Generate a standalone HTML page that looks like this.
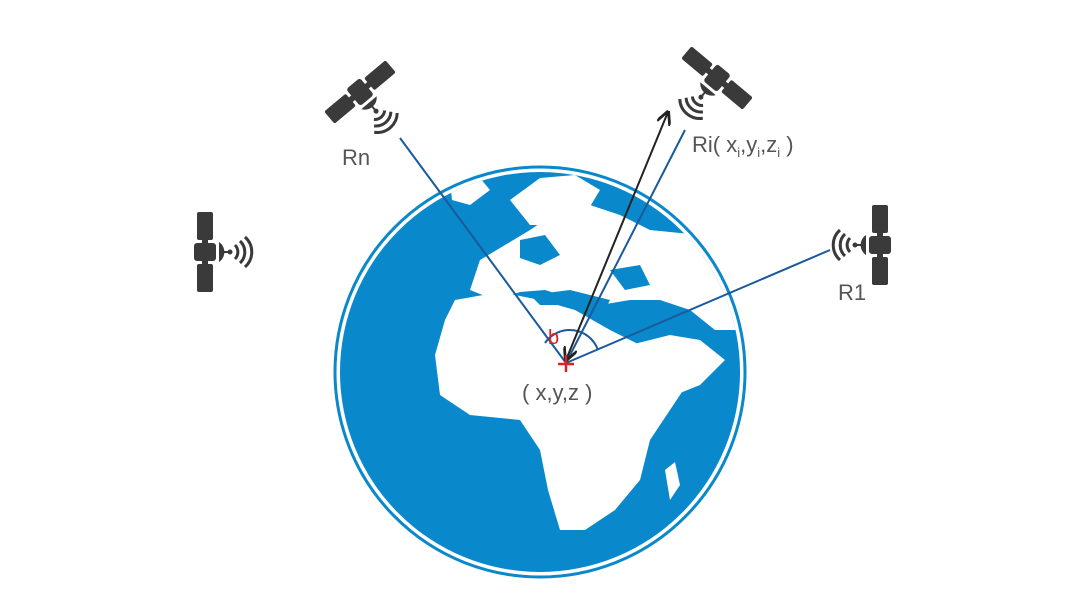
<!DOCTYPE html>
<html><head><meta charset="utf-8"><style>
html,body{margin:0;padding:0;background:#fff;width:1080px;height:608px;overflow:hidden}
svg text{font-family:"Liberation Sans",sans-serif}
</style></head><body>
<svg width="1080" height="608" viewBox="0 0 1080 608" xmlns="http://www.w3.org/2000/svg">
<defs>
<g id="sat">
  <rect x="-40" y="-8" width="28" height="16" rx="2" fill="#3a3a3a"/>
  <rect x="12" y="-8" width="28" height="16" rx="2" fill="#3a3a3a"/>
  <rect x="-14" y="-3" width="28" height="6" fill="#3a3a3a"/>
  <rect x="-9" y="-11" width="18" height="22" rx="3" fill="#3a3a3a"/>
  <path d="M-10 12 A12 12 0 0 0 10 12 Z" fill="#3a3a3a" transform="translate(0,2)"/>
  <line x1="0" y1="14" x2="0" y2="24" stroke="#3a3a3a" stroke-width="2"/>
  <circle cx="0" cy="25" r="2.5" fill="#3a3a3a"/>
  <path d="M-7 30 A10 10 0 0 0 7 30" stroke="#3a3a3a" stroke-width="3" fill="none"/>
  <path d="M-11 35 A15 15 0 0 0 11 35" stroke="#3a3a3a" stroke-width="3" fill="none"/>
  <path d="M-15 40 A20 20 0 0 0 15 40" stroke="#3a3a3a" stroke-width="3" fill="none"/>
</g>
<marker id="ah" viewBox="0 0 10 10" refX="9" refY="5" markerWidth="7" markerHeight="7" orient="auto-start-reverse"><path d="M0 0 L10 5 L0 10" fill="none" stroke="#222" stroke-width="2"/></marker>
<clipPath id="gc"><circle cx="540" cy="372" r="200"/></clipPath>
</defs>
<circle cx="540" cy="372" r="205" fill="#fff" stroke="#0a88cc" stroke-width="3"/>
<circle cx="540" cy="372" r="200" fill="#0a88cc"/>
<g clip-path="url(#gc)" fill="#fff">
  <path d="M455 300 L500 292 L540 300 L575 310 L610 330 L640 345 L660 360 L690 380 L670 410 L650 440 L640 480 L615 510 L585 530 L560 530 L548 490 L540 450 L520 420 L470 415 L440 395 L435 355 L445 320 Z"/>
  <path d="M470 290 L480 260 L505 245 L530 230 L560 210 L590 205 L620 215 L650 230 L700 235 L740 260 L740 330 L715 330 L690 310 L660 300 L630 300 L600 305 L570 298 L545 290 L520 292 L495 300 Z"/>
  <path d="M630 345 L670 335 L700 340 L725 360 L700 385 L675 395 L655 370 Z"/>
  <path d="M510 200 L540 178 L575 175 L600 190 L585 215 L555 225 L530 225 Z"/>
  <path d="M450 180 L475 172 L490 190 L470 205 L452 200 Z"/>
  <path d="M665 470 L675 462 L680 485 L670 500 Z"/>
</g>
<g fill="#0a88cc">
  <path d="M530 295 L570 290 L610 300 L605 310 L570 305 L540 305 Z"/>
  <path d="M520 240 L545 235 L560 255 L540 265 L520 258 Z"/>
  <path d="M610 270 L640 265 L650 285 L625 290 Z"/>
</g>
<g stroke="#1a5a9a" stroke-width="2" fill="none">
  <line x1="400" y1="138" x2="566" y2="363"/>
  <line x1="685" y1="130" x2="566" y2="363"/>
  <line x1="830" y1="250" x2="566" y2="363"/>
  <path d="M545 343 A30 30 0 0 1 598 350"/>
</g>
<line x1="566" y1="360" x2="668" y2="112" stroke="#222" stroke-width="2" marker-start="url(#ah)" marker-end="url(#ah)"/>
<text x="548" y="344" fill="#e02020" font-size="20">b</text>
<path d="M566 355 V372 M558 364 H574" stroke="#e02020" stroke-width="2.5"/>
<text x="522" y="400" fill="#555" font-size="22">( x,y,z )</text>
<use href="#sat" transform="translate(360,92) rotate(-40)"/>
<use href="#sat" transform="translate(717,78) rotate(40)"/>
<use href="#sat" transform="translate(880,245) rotate(90)"/>
<use href="#sat" transform="translate(205,252) rotate(-90)"/>
<text x="342" y="165" fill="#555" font-size="22">Rn</text>
<text x="692" y="152" fill="#555" font-size="22">Ri( x<tspan font-size="13" dy="5">i</tspan><tspan dy="-5">,y</tspan><tspan font-size="13" dy="5">i</tspan><tspan dy="-5">,z</tspan><tspan font-size="13" dy="5">i</tspan><tspan dy="-5"> )</tspan></text>
<text x="838" y="300" fill="#555" font-size="22">R1</text>
</svg>
</body></html>
